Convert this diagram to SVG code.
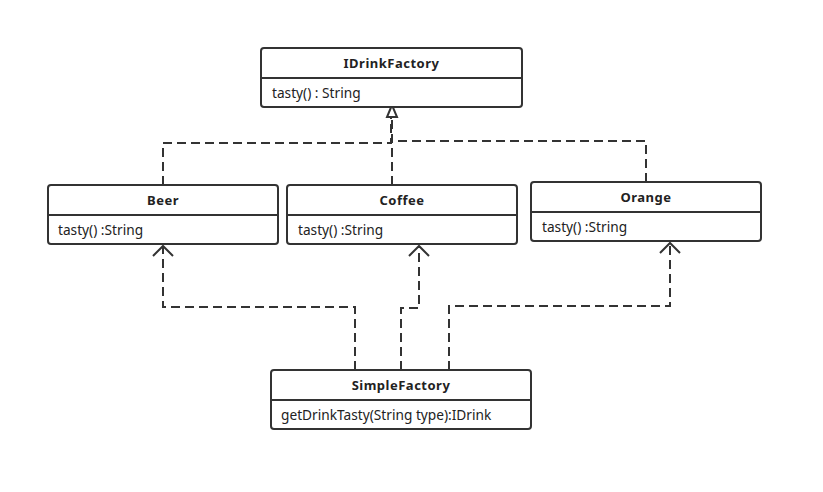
<svg xmlns="http://www.w3.org/2000/svg" width="823" height="492" viewBox="0 0 823 492">
<style>
.box{fill:#fff;stroke:#333;stroke-width:2}
.div{stroke:#333;stroke-width:2}
.t{font-family:"Noto Sans","Open Sans",sans-serif;font-size:13.7px;fill:#222}
.h{font-size:13px;font-weight:bold;text-anchor:middle;letter-spacing:0.5px}
.c{fill:none;stroke:#333;stroke-width:2;stroke-dasharray:9 5}
.ah{fill:none;stroke:#333;stroke-width:2}
</style>
<rect width="823" height="492" fill="#fff"/>
<g id="connectors">
<polyline class="c" points="163,185 163,143 391,143 391,117"/>
<polyline class="c" points="646,182 646,141 392,141"/>
<polyline class="c" points="392,185 392,117"/>
<polygon points="392,105 387,117 397,117" fill="#fff" stroke="#333" stroke-width="2"/>
<polyline class="c" points="355,370 355,307 163,307 163,246"/>
<polyline class="ah" points="153,256 163,246 173,256"/>
<polyline class="c" points="401,370 401,308 419,308 419,246"/>
<polyline class="ah" points="409,256 419,246 429,256"/>
<polyline class="c" points="449,370 449,306 670,306 670,243"/>
<polyline class="ah" points="660,253 670,243 680,253"/>
</g>
<g id="IDrinkFactory">
<rect class="box" x="261" y="48" width="261" height="59" rx="3"/>
<line class="div" x1="261" y1="78" x2="522" y2="78"/>
<text class="t h" x="391.5" y="68">IDrinkFactory</text>
<text class="t" x="272" y="98">tasty() : String</text>
</g>
<g id="Beer">
<rect class="box" x="48" y="185" width="230" height="59" rx="3"/>
<line class="div" x1="48" y1="215" x2="278" y2="215"/>
<text class="t h" x="163" y="205">Beer</text>
<text class="t" x="58" y="235">tasty() :String</text>
</g>
<g id="Coffee">
<rect class="box" x="287" y="185" width="230" height="59" rx="3"/>
<line class="div" x1="287" y1="215" x2="517" y2="215"/>
<text class="t h" x="402" y="205">Coffee</text>
<text class="t" x="298" y="235">tasty() :String</text>
</g>
<g id="Orange">
<rect class="box" x="531" y="182" width="230" height="59" rx="3"/>
<line class="div" x1="531" y1="212" x2="761" y2="212"/>
<text class="t h" x="646" y="202">Orange</text>
<text class="t" x="542" y="232">tasty() :String</text>
</g>
<g id="SimpleFactory">
<rect class="box" x="271" y="370" width="260" height="59" rx="3"/>
<line class="div" x1="271" y1="400" x2="531" y2="400"/>
<text class="t h" x="401" y="390">SimpleFactory</text>
<text class="t" x="281" y="420">getDrinkTasty(String type):IDrink</text>
</g>
</svg>
